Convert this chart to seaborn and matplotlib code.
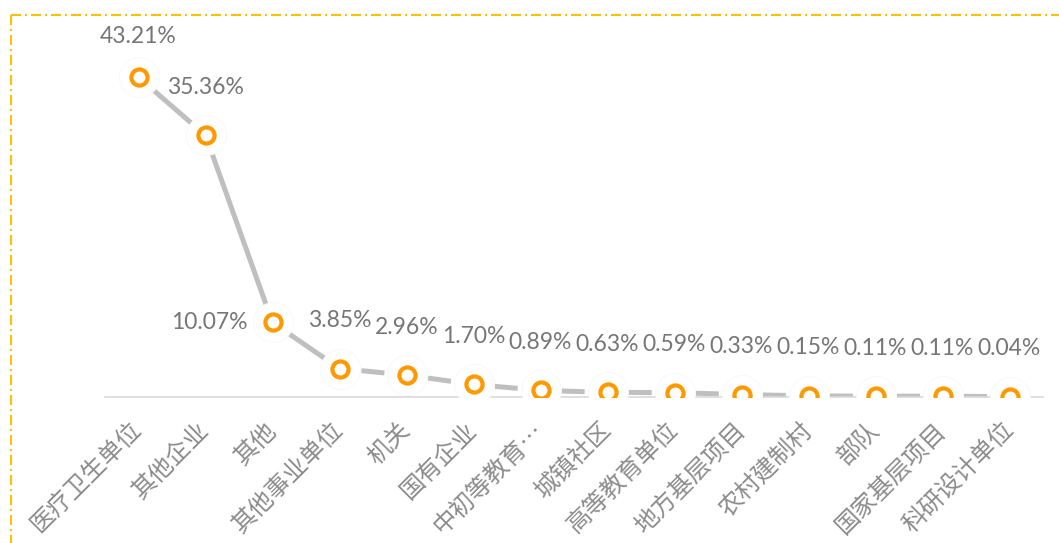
import pandas as pd
import numpy as np
import matplotlib.pyplot as plt
import seaborn as sns
from matplotlib.lines import Line2D

# Share of graduates by employer type (%)
categories = ['医疗卫生单位', '其他企业', '其他', '其他事业单位', '机关', '国有企业',
              '中初等教育…', '城镇社区', '高等教育单位', '地方基层项目', '农村建制村',
              '部队', '国家基层项目', '科研设计单位']
values = [43.21, 35.36, 10.07, 3.85, 2.96, 1.70, 0.89, 0.63, 0.59, 0.33, 0.15, 0.11, 0.11, 0.04]
labels = [f"{v:.2f}%" for v in values]

df = pd.DataFrame({'cat': categories, 'val': values})

sns.set_theme(style='white')
plt.rcParams['font.family'] = ['Noto Sans CJK SC', 'DejaVu Sans']
plt.rcParams['lines.scale_dashes'] = False

W, H = 1059, 543
fig = plt.figure(figsize=(W / 100, H / 100), dpi=100)
ax = fig.add_axes([105 / W, 1 - 397 / H, 938 / W, 370 / H])

line_grey = '#BFBFBF'
orange = '#FF9900'

# white halos behind markers (also fixes category order)
sns.scatterplot(data=df, x='cat', y='val', s=830, color='white', edgecolor='#F6F6F6',
                linewidth=0.5, zorder=3, ax=ax)

# solid part of the line, then dashed tail
sns.lineplot(data=df.iloc[:4], x='cat', y='val', sort=False, errorbar=None,
             color=line_grey, linewidth=3.6, zorder=2, ax=ax)
sns.lineplot(data=df.iloc[3:], x='cat', y='val', sort=False, errorbar=None,
             color=line_grey, linewidth=3.6, linestyle=(32.4, (16.6, 31.7)),
             zorder=2, ax=ax)

# orange ring markers
sns.scatterplot(data=df, x='cat', y='val', s=135, color='white', edgecolor=orange,
                linewidth=3.0, zorder=4, ax=ax)

# data labels
for i, (c, v, t) in enumerate(zip(categories, values, labels)):
    if i == 2:
        off, ha = (-18, 0), 'right'
    elif i == 0:
        off, ha = (0, 29.5), 'center'
    else:
        off, ha = (0, 34.6), 'center'
    ax.annotate(t, xy=(c, v), xytext=off, textcoords='offset points',
                ha=ha, va='center', fontsize=16.5, color='#767676',
                family=['Lato', 'DejaVu Sans'], zorder=5)

ax.set_xlim(-0.5, len(categories) - 0.5)
ax.set_ylim(0, 50)
ax.set_xlabel('')
ax.set_ylabel('')
ax.set_yticks([])
ax.tick_params(axis='x', length=0, pad=21)
ax.set_xticks(range(len(categories)))
ax.set_xticklabels(categories, rotation=45, ha='right', va='center',
                   rotation_mode='anchor', fontsize=17.5, color='#8C8C8C',
                   fontweight='light')
for s in ['top', 'right', 'left']:
    ax.spines[s].set_visible(False)
ax.spines['bottom'].set_color('#D9D9D9')
ax.spines['bottom'].set_linewidth(1.2)
ax.patch.set_alpha(0)

# dash-dot frame (left and top edges visible)
dd = (0, (7.2, 2.9, 1.4, 2.9))
x0, y0 = 11 / W, 1 - 15 / H
fig.add_artist(Line2D([x0, x0], [y0, 0], transform=fig.transFigure,
                      color='#FFC000', linewidth=1.5, linestyle=dd))
fig.add_artist(Line2D([x0, 1], [y0, y0], transform=fig.transFigure,
                      color='#FFC000', linewidth=1.5, linestyle=dd))

fig.savefig('out.png', dpi=100)
